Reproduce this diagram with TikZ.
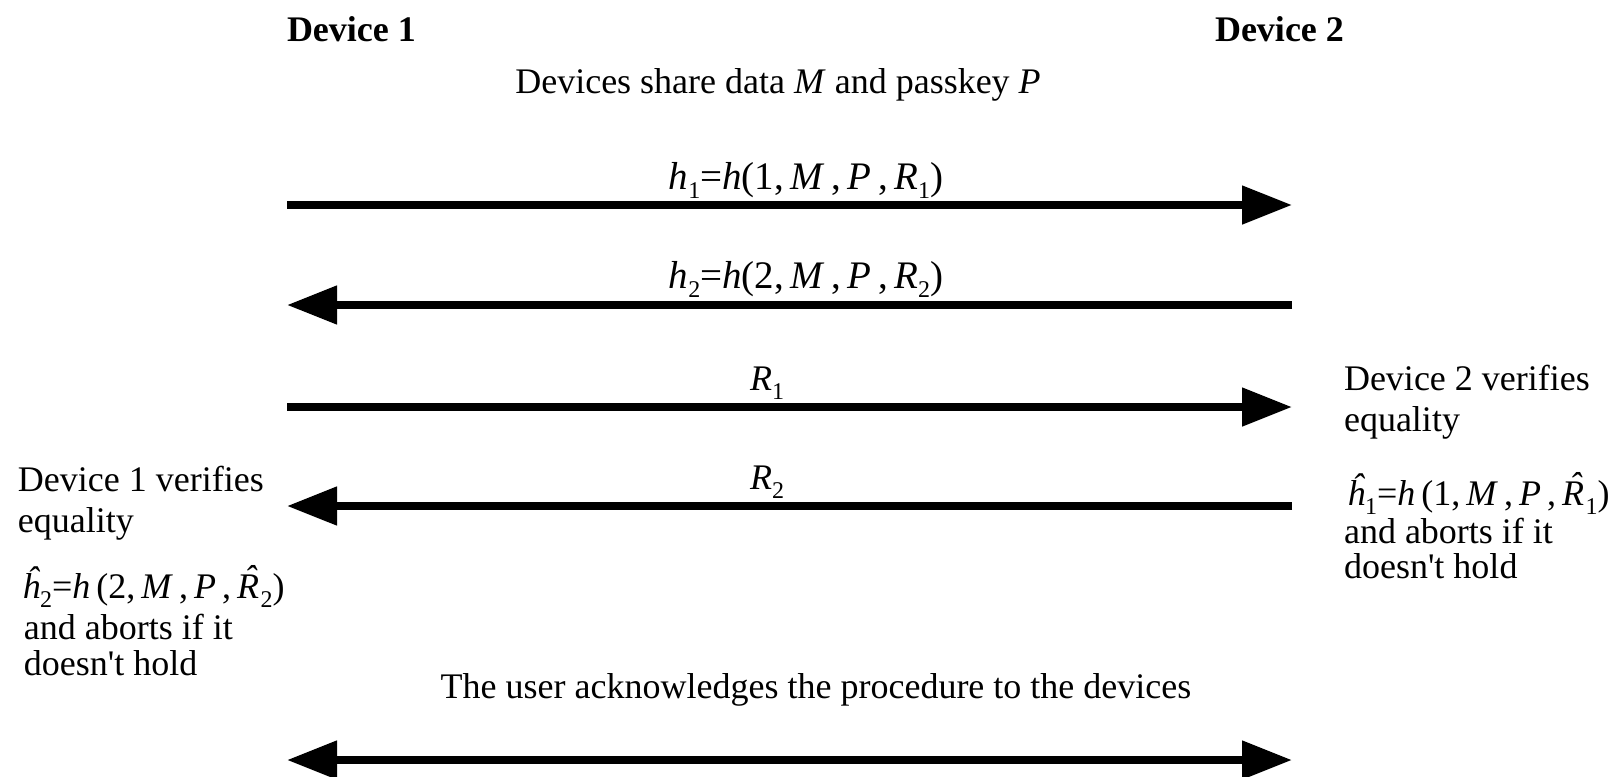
\documentclass[tikz,border=0pt]{standalone}
\usepackage{fontspec}
\setmainfont{Liberation Serif}[Ligatures=TeXOff]
\usetikzlibrary{arrows.meta}
\newcommand{\vi}[1]{\textit{#1}}
\newcommand{\sbs}[1]{\raisebox{-0.25em}{\fontsize{12}{12}\selectfont #1}}
\newcommand{\hatR}{\textit{\accent"02C6 R}\kern0.8pt}
\begin{document}
\begin{tikzpicture}[x=0.5pt,y=-0.5pt,
  every node/.style={inner sep=0pt,outer sep=0pt,font=\fontsize{18}{20.5}\selectfont},
  msg/.style={line width=4pt,-{Triangle[length=25pt,width=18.5pt]}},
  bimsg/.style={line width=4pt,{Triangle[length=25pt,width=18.5pt]}-{Triangle[length=25pt,width=18.5pt]}},
  lbl/.style={anchor=base},
  flbl/.style={anchor=base,font=\fontsize{19.5}{22}\selectfont},
  txt/.style={anchor=base west}]
\useasboundingbox (0,0) rectangle (1610,776);
% headers
\node[anchor=base west,font=\fontsize{18}{20.5}\selectfont\bfseries] (d1) at (287,41) {Device 1};
\node[anchor=base west,font=\fontsize{18}{20.5}\selectfont\bfseries] (d2) at (1215,41) {Device 2};
\node[lbl] (share) at (778,93) {Devices share data \vi{M} and passkey \vi{P}};
% endpoints
\coordinate (a1l) at (287,205); \coordinate (a1r) at (1292,205);
\coordinate (a2l) at (287,305); \coordinate (a2r) at (1292,305);
\coordinate (a3l) at (287,407); \coordinate (a3r) at (1292,407);
\coordinate (a4l) at (287,506); \coordinate (a4r) at (1292,506);
\coordinate (a5l) at (287,760); \coordinate (a5r) at (1292,760);
\draw[msg] (a1l) -- (a1r);
\draw[msg] (a2r) -- (a2l);
\draw[msg] (a3l) -- (a3r);
\draw[msg] (a4r) -- (a4l);
\draw[bimsg] (a5l) -- (a5r);
% labels
\node[flbl] (l1) at (806,189) {\vi{h}\sbs{1}=\vi{h}(1,\,\vi{M}\,,\,\vi{P}\,,\,\vi{R}\sbs{1})};
\node[flbl] (l2) at (806,288) {\vi{h}\sbs{2}=\vi{h}(2,\,\vi{M}\,,\,\vi{P}\,,\,\vi{R}\sbs{2})};
\node[lbl] (l3) at (767,390) {\vi{R}\sbs{1}};
\node[lbl] (l4) at (767,489) {\vi{R}\sbs{2}};
\node[lbl] (ack) at (816,698) {The user acknowledges the procedure to the devices};
% left verification text
\node[txt] (v1a) at (18,491) {Device 1 verifies};
\node[txt] (v1b) at (18,532) {equality};
\node[txt] (f1) at (22,598) {\vi{ĥ}\sbs{2}=\vi{h}\,(2,\,\vi{M}\,,\,\vi{P}\,,\,\hatR\sbs{2})};
\node[txt] (v1c) at (24,639) {and aborts if it};
\node[txt] (v1d) at (24,675) {doesn't hold};
% right verification text
\node[txt] (v2a) at (1344,390) {Device 2 verifies};
\node[txt] (v2b) at (1344,431) {equality};
\node[txt] (f2) at (1347,505) {\vi{ĥ}\sbs{1}=\vi{h}\,(1,\,\vi{M}\,,\,\vi{P}\,,\,\hatR\sbs{1})};
\node[txt] (v2c) at (1344,543) {and aborts if it};
\node[txt] (v2d) at (1344,578) {doesn't hold};
\end{tikzpicture}
\end{document}
